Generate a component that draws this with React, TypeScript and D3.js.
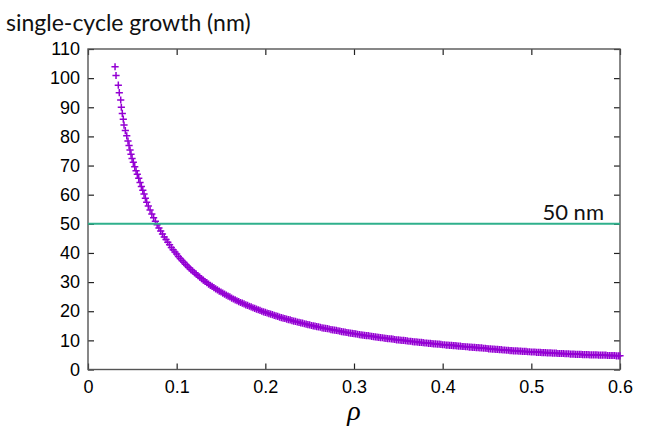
import React, { useEffect, useRef } from 'react';
import * as d3 from 'd3';

// rho vs single-cycle growth (nm)
const steepPart: [number, number][] = [
  [0.0305, 103.9], [0.0316, 100.9], [0.0342, 97.6], [0.0353, 95.0], [0.0369, 92.5],
  [0.0376, 90.0], [0.0387, 87.9], [0.0398, 85.9], [0.0406, 83.9], [0.0421, 82.0],
  [0.0437, 80.2], [0.0451, 78.4], [0.0463, 76.9], [0.0474, 75.3], [0.0485, 73.9],
  [0.0497, 72.4], [0.0511, 71.1], [0.0527, 69.6], [0.0542, 68.2], [0.0556, 67.0],
  [0.0572, 65.6], [0.0587, 64.2], [0.0602, 62.8], [0.0618, 61.5], [0.0632, 60.2],
  [0.0647, 58.8], [0.0662, 57.4],
];

const midPart: [number, number][] = [
  [0.068, 56.1], [0.070, 54.7], [0.072, 53.4], [0.074, 52.1], [0.076, 50.9],
  [0.078, 49.7], [0.080, 48.6], [0.082, 47.5], [0.084, 46.5], [0.086, 45.5],
  [0.088, 44.6], [0.090, 43.7], [0.092, 42.8], [0.094, 41.9], [0.096, 41.1],
  [0.098, 40.3], [0.100, 39.6], [0.102, 38.8], [0.104, 38.1], [0.106, 37.4],
  [0.108, 36.8], [0.110, 36.1], [0.112, 35.5], [0.114, 34.9], [0.116, 34.3],
  [0.118, 33.8], [0.120, 33.2], [0.122, 32.7], [0.124, 32.2], [0.126, 31.7],
  [0.128, 31.2], [0.130, 30.7], [0.132, 30.2], [0.134, 29.8], [0.136, 29.3],
  [0.138, 28.9], [0.140, 28.5], [0.142, 28.1], [0.144, 27.7], [0.146, 27.3],
  [0.148, 26.9], [0.150, 26.6], [0.152, 26.2], [0.154, 25.9], [0.156, 25.5],
  [0.158, 25.2], [0.160, 24.9], [0.162, 24.5], [0.164, 24.2], [0.166, 23.9],
  [0.168, 23.6], [0.170, 23.3], [0.172, 23.0], [0.174, 22.8], [0.176, 22.5],
  [0.178, 22.2], [0.180, 22.0], [0.182, 21.7], [0.184, 21.5], [0.186, 21.2],
  [0.188, 21.0], [0.190, 20.7], [0.192, 20.5], [0.194, 20.3], [0.196, 20.0],
  [0.198, 19.8], [0.200, 19.6],
];

const tailPart: [number, number][] = [
  [0.202, 19.4], [0.204, 19.2], [0.206, 19.0], [0.208, 18.8], [0.210, 18.6],
  [0.212, 18.4], [0.214, 18.2], [0.216, 18.0], [0.218, 17.8], [0.220, 17.6],
  [0.222, 17.5], [0.224, 17.3], [0.226, 17.1], [0.228, 17.0], [0.230, 16.8],
  [0.232, 16.6], [0.234, 16.5], [0.236, 16.3], [0.238, 16.2], [0.240, 16.0],
  [0.242, 15.9], [0.244, 15.7], [0.246, 15.6], [0.248, 15.4], [0.250, 15.3],
  [0.252, 15.1], [0.254, 15.0], [0.256, 14.9], [0.258, 14.7], [0.260, 14.6],
  [0.262, 14.5], [0.264, 14.3], [0.266, 14.2], [0.268, 14.1], [0.270, 14.0],
  [0.272, 13.9], [0.274, 13.7], [0.276, 13.6], [0.278, 13.5], [0.280, 13.4],
  [0.282, 13.3], [0.284, 13.2], [0.286, 13.0], [0.288, 12.9], [0.290, 12.8],
  [0.292, 12.7], [0.294, 12.6], [0.296, 12.5], [0.298, 12.4], [0.300, 12.3],
  [0.302, 12.2], [0.304, 12.1], [0.306, 12.0], [0.308, 11.9], [0.310, 11.8],
  [0.312, 11.7], [0.314, 11.6], [0.316, 11.6], [0.318, 11.5], [0.320, 11.4],
  [0.322, 11.3], [0.324, 11.2], [0.326, 11.1], [0.328, 11.0], [0.330, 10.95],
  [0.332, 10.9], [0.334, 10.8], [0.336, 10.7], [0.338, 10.6], [0.340, 10.55],
  [0.342, 10.5], [0.344, 10.4], [0.346, 10.3], [0.348, 10.2], [0.350, 10.2],
  [0.352, 10.1], [0.354, 10.0], [0.356, 10.0], [0.358, 9.9], [0.360, 9.8],
  [0.362, 9.7], [0.364, 9.7], [0.366, 9.6], [0.368, 9.5], [0.370, 9.5],
  [0.372, 9.4], [0.374, 9.3], [0.376, 9.3], [0.378, 9.2], [0.380, 9.1],
  [0.382, 9.1], [0.384, 9.0], [0.386, 9.0], [0.388, 8.9], [0.390, 8.8],
  [0.392, 8.8], [0.394, 8.7], [0.396, 8.7], [0.398, 8.6], [0.400, 8.5],
  [0.402, 8.5], [0.404, 8.4], [0.406, 8.4], [0.408, 8.3], [0.410, 8.3],
  [0.412, 8.2], [0.414, 8.2], [0.416, 8.1], [0.418, 8.0], [0.420, 8.0],
  [0.422, 7.9], [0.424, 7.9], [0.426, 7.8], [0.428, 7.8], [0.430, 7.7],
  [0.432, 7.7], [0.434, 7.6], [0.436, 7.6], [0.438, 7.5], [0.440, 7.5],
  [0.442, 7.4], [0.444, 7.4], [0.446, 7.3], [0.448, 7.3], [0.450, 7.2],
  [0.452, 7.1], [0.454, 7.1], [0.456, 7.0], [0.458, 7.0], [0.460, 6.9],
  [0.462, 6.9], [0.464, 6.8], [0.466, 6.8], [0.468, 6.7], [0.470, 6.7],
  [0.472, 6.6], [0.474, 6.6], [0.476, 6.5], [0.478, 6.5], [0.480, 6.4],
  [0.482, 6.4], [0.484, 6.4], [0.486, 6.3], [0.488, 6.3], [0.490, 6.2],
  [0.492, 6.2], [0.494, 6.2], [0.496, 6.1], [0.498, 6.1], [0.500, 6.0],
  [0.502, 6.0], [0.504, 6.0], [0.506, 5.9], [0.508, 5.9], [0.510, 5.9],
  [0.512, 5.8], [0.514, 5.8], [0.516, 5.8], [0.518, 5.7], [0.520, 5.7],
  [0.522, 5.7], [0.524, 5.6], [0.526, 5.6], [0.528, 5.6], [0.530, 5.5],
  [0.532, 5.5], [0.534, 5.5], [0.536, 5.5], [0.538, 5.4], [0.540, 5.4],
  [0.542, 5.4], [0.544, 5.3], [0.546, 5.3], [0.548, 5.3], [0.550, 5.2],
  [0.552, 5.2], [0.554, 5.2], [0.556, 5.2], [0.558, 5.1], [0.560, 5.1],
  [0.562, 5.1], [0.564, 5.1], [0.566, 5.0], [0.568, 5.0], [0.570, 5.0],
  [0.572, 5.0], [0.574, 5.0], [0.576, 4.9], [0.578, 4.9], [0.580, 4.9],
  [0.582, 4.9], [0.584, 4.9], [0.586, 4.8], [0.588, 4.8], [0.590, 4.8],
  [0.592, 4.8], [0.594, 4.8], [0.596, 4.7], [0.598, 4.7], [0.600, 4.7],
];

const xTicks = [0, 0.1, 0.2, 0.3, 0.4, 0.5, 0.6];
const yTicks = [0, 10, 20, 30, 40, 50, 60, 70, 80, 90, 100, 110];
const thresholdValue = 50;

const yTitle = 'single-cycle growth (nm)';
const xTitle = 'ρ';
const thresholdLabel = '50 nm';

export default function App() {
  const svgRef = useRef<SVGSVGElement>(null);

  useEffect(() => {
    if (!svgRef.current) return;
    const svg = d3.select(svgRef.current);
    svg.selectAll('*').remove();

    const left = 88, right = 620, top = 49, bottom = 369.5;
    const x = d3.scaleLinear().domain([0, 0.6]).range([left, right]);
    const y = d3.scaleLinear().domain([0, 110]).range([bottom, top]);

    const tickFont = '"Liberation Sans", Arial, sans-serif';

    // bottom axis, ticks pointing inward
    const gx = svg.append('g')
      .attr('transform', `translate(0,${bottom})`)
      .call(d3.axisBottom(x).tickValues(xTicks).tickSizeInner(-6).tickSizeOuter(0)
        .tickPadding(11).tickFormat(d3.format('')));
    // left axis
    const gy = svg.append('g')
      .attr('transform', `translate(${left},0)`)
      .call(d3.axisLeft(y).tickValues(yTicks).tickSizeInner(-6).tickSizeOuter(0)
        .tickPadding(8));
    // mirrored ticks top / right
    const gt = svg.append('g')
      .attr('transform', `translate(0,${top})`)
      .call(d3.axisTop(x).tickValues(xTicks).tickSizeInner(-6).tickSizeOuter(0).tickFormat(() => ''));
    const gr = svg.append('g')
      .attr('transform', `translate(${right},0)`)
      .call(d3.axisRight(y).tickValues(yTicks).tickSizeInner(-6).tickSizeOuter(0).tickFormat(() => ''));

    [gx, gy, gt, gr].forEach(g => {
      g.select('.domain').remove();
      g.selectAll('.tick line').attr('stroke', '#222').attr('stroke-width', 1.2);
      g.selectAll('.tick text')
        .attr('fill', '#000')
        .style('font-family', tickFont)
        .style('font-size', '18px');
    });

    // plot frame
    svg.append('rect')
      .attr('x', left).attr('y', top)
      .attr('width', right - left).attr('height', bottom - top)
      .attr('fill', 'none').attr('stroke', '#555').attr('stroke-width', 1.4);

    // data markers (+)
    const allPoints = [...steepPart, ...midPart, ...tailPart];
    const s = 3.6;
    svg.append('g')
      .selectAll('path')
      .data(allPoints)
      .enter()
      .append('path')
      .attr('transform', d => `translate(${x(d[0])},${y(d[1])})`)
      .attr('d', `M${-s},0H${s}M0,${-s}V${s}`)
      .attr('stroke', '#9400d3')
      .attr('stroke-width', 1.5)
      .attr('fill', 'none');

    // 50 nm threshold line
    svg.append('line')
      .attr('x1', x(0)).attr('x2', x(0.6))
      .attr('y1', y(thresholdValue)).attr('y2', y(thresholdValue))
      .attr('stroke', '#2fb08c').attr('stroke-width', 2);

    const labelFont = 'Lato, "Open Sans", sans-serif';
    svg.append('text')
      .attr('x', 604).attr('y', 220)
      .attr('text-anchor', 'end')
      .style('font-family', labelFont).style('font-size', '22px')
      .attr('fill', '#111')
      .text(thresholdLabel);

    svg.append('text')
      .attr('x', 6).attr('y', 31)
      .style('font-family', labelFont).style('font-size', '23px')
      .attr('fill', '#111')
      .text(yTitle);

    svg.append('text')
      .attr('x', (left + right) / 2).attr('y', 420)
      .attr('text-anchor', 'middle')
      .style('font-family', '"Liberation Serif", "DejaVu Serif", serif')
      .style('font-style', 'italic')
      .style('font-size', '28px')
      .attr('fill', '#000')
      .text(xTitle);
  }, []);

  return (
    <svg
      ref={svgRef}
      width={654}
      height={439}
      style={{ position: 'absolute', left: 0, top: 0, background: '#fff' }}
    />
  );
}
